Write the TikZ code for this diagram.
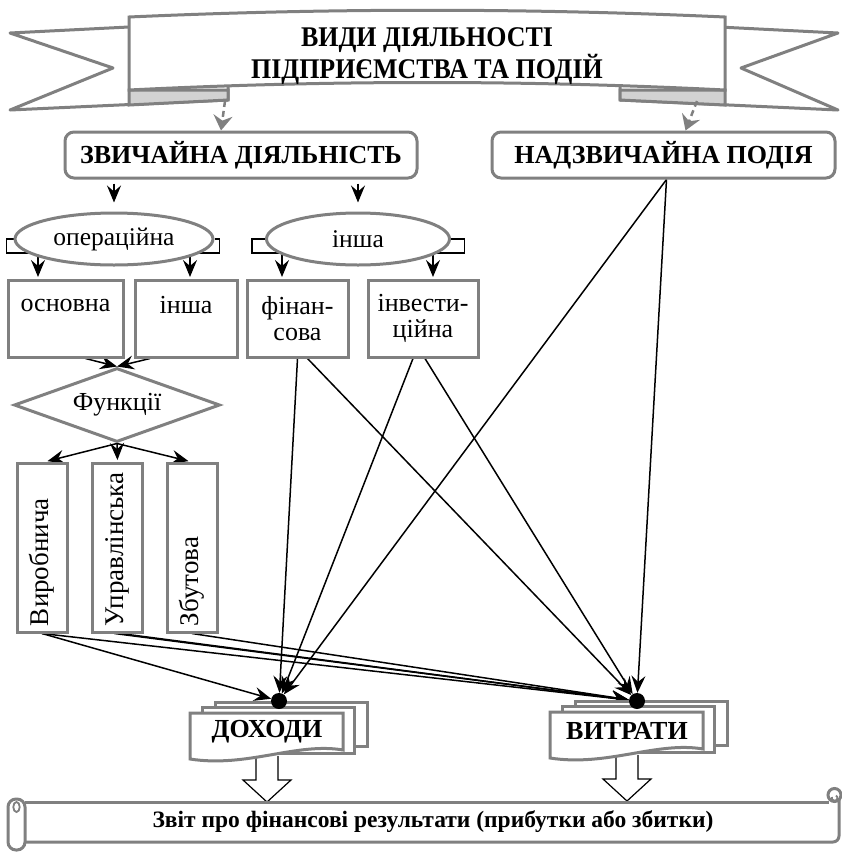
\documentclass[tikz,border=0pt]{standalone}
\usepackage{fontspec}
\usepackage{graphicx}
\setmainfont{Liberation Serif}
\usetikzlibrary{arrows.meta,shapes.geometric,calc}
\pgfdeclarelayer{bg}
\pgfsetlayers{bg,main}
\tikzset{
  gline/.style={draw=gray, line width=3pt},
  rbox/.style={gline, fill=white, rounded corners=9pt, inner sep=0pt, minimum height=46pt, font=\fontsize{26}{28}\selectfont\bfseries},
  ell/.style={gline, fill=white, ellipse, inner sep=0pt, minimum height=52pt, font=\fontsize{25.5}{28}\selectfont},
  sbox/.style={gline, fill=white, rectangle, inner sep=0pt, align=center, minimum height=77pt, font=\fontsize{26}{26}\selectfont},
  vbox/.style={gline, fill=white, rectangle, rotate=90, minimum width=169pt, minimum height=50pt, text width=157pt, inner xsep=6pt, inner ysep=0pt, align=left, font=\fontsize{27}{28}\selectfont},
  dmd/.style={gline, fill=white, diamond, aspect=2.78, inner sep=0pt, minimum width=206pt, minimum height=74pt, font=\fontsize{26}{28}\selectfont},
  conn/.style={draw=black, line width=1.5pt},
  arr/.style={conn, -{Stealth[length=17pt,width=14pt,inset=6pt]}},
  garr/.style={draw=gray, line width=2.5pt, dash pattern=on 6pt off 4pt, -{Stealth[length=15pt,width=19pt,inset=5pt]}},
  dot/.style={circle, fill=black, inner sep=0pt, minimum size=16pt},
  doctext/.style={font=\fontsize{26}{28}\selectfont\bfseries},
  hollow/.style={draw=black, line width=1.2pt, fill=white, line join=miter},
}
\newcommand\docstack[1]{%
  \begin{scope}[shift={(#1)}]
    \draw[gline, fill=white] (-52,-30) rectangle (100,14);
    \draw[gline, fill=white] (-65,-25) rectangle (87,21);
    \draw[gline, fill=white] (-77,-19) -- (76,-19) -- (76,18) .. controls (30,10) and (-20,36) .. (-77,27) -- cycle;
  \end{scope}}
\newcommand\hollowdown[1]{%
  \draw[hollow] ([shift={(-11,24)}]#1) -- ++(0,24) -- ++(-13,0) -- ++(24,22) -- ++(24,-22) -- ++(-13,0) -- ++(0,-24);}
\begin{document}
\begin{tikzpicture}[x=1pt,y=-1pt]
\useasboundingbox (0,0) rectangle (842,852);

% ---------- banner ----------
\draw[gline, fill=white, line join=round] (10,33) -- (228,22) -- (228,100) -- (10,110) -- (113,68) -- cycle;
\draw[gline, fill=white, line join=round] (838,33) -- (620,22) -- (620,100) -- (838,110) -- (741,68) -- cycle;
\draw[gline, fill=gray!35] (129,90) -- (228,90) -- (228,100) -- (129,105) -- cycle;
\draw[gline, fill=gray!35] (725,90) -- (620,90) -- (620,100) -- (725,105) -- cycle;
\draw[gline, fill=white] (129,17) .. controls (330,8) and (525,8) .. (725,17) -- (725,90) .. controls (525,80) and (330,80) .. (129,90) -- cycle;
\node[align=center, font=\fontsize{28.5}{29}\selectfont\bfseries] (title) at (427,56)
  {\scalebox{0.91}[1]{ВИДИ ДІЯЛЬНОСТІ}\\\scalebox{0.91}[1]{ПІДПРИЄМСТВА ТА ПОДІЙ}};
\coordinate (lf) at (225,101);
\coordinate (rf) at (697,101);

% ---------- top boxes ----------
\node[rbox, minimum width=352pt] (zv) at (241,155) {ЗВИЧАЙНА ДІЯЛЬНІСТЬ};
\node[rbox, minimum width=343pt] (nd) at (663.5,155) {НАДЗВИЧАЙНА ПОДІЯ};

\node[ell, minimum width=198pt] (op) at (114,239) {операційна};
\node[ell, minimum width=183pt] (in) at (358,239) {інша};

\node[sbox, minimum width=115pt] (osn) at (65.5,318.5) {основна\\\phantom{сова}};
\node[sbox, minimum width=102pt] (inb) at (186,318.5) {інша\\\phantom{сова}};
\node[sbox, minimum width=101pt] (fin) at (297.5,318.5) {фінан-\\сова};
\node[sbox, minimum width=110pt] (inv) at (423,318.5) {інвести-\\ційна};

\node[dmd] (fun) at (117,405) {Функції};

\node[vbox] (vyr) at (42,547.5) {Виробнича};
\node[vbox] (upr) at (117.5,547.5) {Управлінська};
\node[vbox] (zbu) at (192,547.5) {Збутова};

% ---------- documents ----------
\coordinate (dohc) at (267,732);
\coordinate (vytc) at (627,731);
\hollowdown{dohc}
\hollowdown{vytc}
\docstack{dohc}
\docstack{vytc}
\node[doctext] (doh) at (dohc) {ДОХОДИ};
\node[doctext] (vyt) at (vytc) {ВИТРАТИ};
\node[dot] (dd) at (279,701) {};
\node[dot] (dv) at (637,701) {};

% ---------- scroll ----------
\fill[white] (25,802) rectangle (839,842);
\draw[gline] (25,802) -- (829,802);
\draw[gline, rounded corners=6pt] (25,842) -- (839,842) -- (839,797);
\draw[gline, fill=white] (834.5,795) circle (6.5);
\draw[draw=gray, line width=1.8pt] (832,797) arc (200:-60:2.8);
\draw[gline, fill=white, rounded corners=8pt] (8,799) rectangle (25,850);
\draw[draw=gray, line width=1.8pt] (16.5,807) ellipse (3.2 and 5);
\node[font=\fontsize{23.5}{24}\selectfont\bfseries] (rep) at (433,822) {Звіт про фінансові результати (прибутки або збитки)};

% ---------- gray arrows from banner ----------
\draw[garr] (lf) -- ([xshift=-20pt]zv.north);
\draw[garr] (rf) -- ([xshift=22pt]nd.north);

% ---------- connectors ----------
\begin{pgfonlayer}{bg}
\draw[arr, shorten <=4pt, shorten >=9pt] (zv.south -| op.north) -- (op.north);
\draw[arr, shorten <=4pt, shorten >=9pt] (zv.south -| in.north) -- (in.north);

\draw[arr, shorten >=1.5pt] (op.west) -| ++(-7,14) -| ([xshift=-27.5pt]osn.north);
\draw[arr, shorten >=1.5pt] (op.east) -| ++(5,14) -| ([xshift=4pt]inb.north);
\draw[arr, shorten >=1.5pt] (in.west) -| ++(-13,14) -| ([xshift=-15.5pt]fin.north);
\draw[arr, shorten >=1.5pt] (in.east) -| ++(13.5,14) -| ([xshift=10pt]inv.north);

\draw[arr] ([xshift=20pt]osn.south) -- (fun.north);
\draw[arr] ([xshift=-36pt]inb.south) -- (fun.north);

\draw[arr, shorten >=1.5pt] (fun.south) -- ([xshift=4pt]vyr.east);
\draw[arr, shorten >=1.5pt] (fun.south) -- (upr.east);
\draw[arr, shorten >=1.5pt] (fun.south) -- ([xshift=-2pt]zbu.east);

\draw[arr] (vyr.west) -- (dd);
\draw[arr] (vyr.west) -- (dv);
\draw[arr] ([xshift=-3pt]upr.west) -- (dv);
\draw[arr] ([xshift=3pt]upr.west) -- (dv);
\draw[arr] (zbu.west) -- (dv);

\draw[arr] (fin.south) -- (dd);
\draw[arr] ([xshift=10pt]fin.south) -- (dv);
\draw[arr] ([xshift=-10pt]inv.south) -- (dd);
\draw[arr] ([xshift=2pt]inv.south) -- (dv);

\draw[arr] ([xshift=3pt]nd.south) -- (dd);
\draw[arr] ([xshift=3pt]nd.south) -- (dv);
\end{pgfonlayer}
\end{tikzpicture}
\end{document}
